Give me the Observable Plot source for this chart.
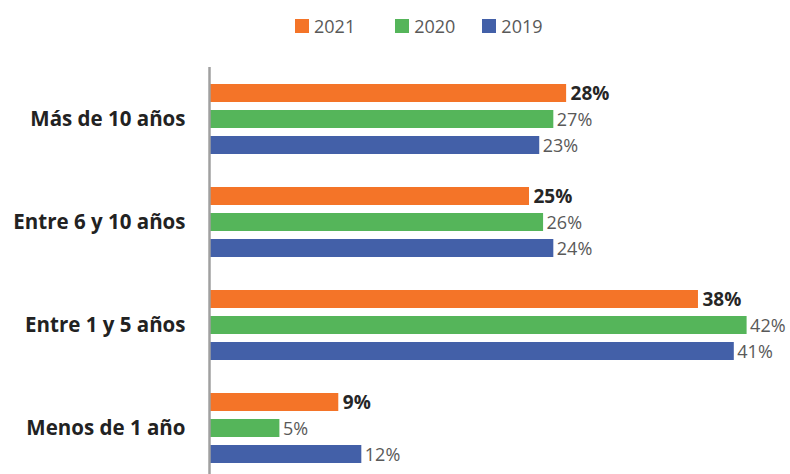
<!DOCTYPE html>
<html>
<head>
<meta charset="utf-8">
<script src="https://cdn.jsdelivr.net/npm/d3@7"></script>
<script src="https://cdn.jsdelivr.net/npm/@observablehq/plot@0.6"></script>
<style>
  html, body { margin: 0; padding: 0; background: #fff; overflow: hidden; width: 790px; height: 474px; }
  #legend { height: 50px; display: flex; align-items: center; padding-left: 295px; padding-top: 2px; box-sizing: border-box;
            font-family: "Open Sans", sans-serif; font-size: 18px; color: #595959; }
  #legend .item { display: flex; align-items: center; }
  #legend .item + .item { margin-left: 40px; }
  #legend .item:nth-child(3) { margin-left: 27px; }
  #legend .sw { width: 14px; height: 14px; margin-right: 5px; }
  #chart svg [aria-label^="fy-axis"] text { font-weight: bold; font-size: 20.5px; fill: #222; }
</style>
</head>
<body>
<div id="legend"></div>
<div id="chart"></div>
<script>
// ---- data ----
const categories = ["Más de 10 años", "Entre 6 y 10 años", "Entre 1 y 5 años", "Menos de 1 año"];
const years = ["2021", "2020", "2019"];
const colors = ["#F47428", "#55B55A", "#4360A8"];
// bar lengths as drawn (percent)
const values2021 = [27.9, 25.0, 38.2, 10.1];
const values2020 = [26.9, 26.1, 42.0, 5.5];
const values2019 = [25.8, 26.9, 41.0, 11.9];
// printed labels
const labels2021 = ["28%", "25%", "38%", "9%"];
const labels2020 = ["27%", "26%", "42%", "5%"];
const labels2019 = ["23%", "24%", "41%", "12%"];

const series = [
  {year: "2021", values: values2021, labels: labels2021},
  {year: "2020", values: values2020, labels: labels2020},
  {year: "2019", values: values2019, labels: labels2019}
];
const rows = [];
categories.forEach((c, i) => {
  series.forEach(s => rows.push({category: c, year: s.year, value: s.values[i], label: s.labels[i]}));
});

// legend
const legend = document.getElementById("legend");
years.forEach((y, i) => {
  const it = document.createElement("div");
  it.className = "item";
  const sw = document.createElement("span");
  sw.className = "sw";
  sw.style.background = colors[i];
  const t = document.createElement("span");
  t.textContent = y;
  it.appendChild(sw);
  it.appendChild(t);
  legend.appendChild(it);
});

const chart = Plot.plot({
  width: 790,
  height: 430,
  marginTop: 15,
  marginBottom: 0,
  marginLeft: 209,
  marginRight: 5,
  style: {fontFamily: "Open Sans, sans-serif", background: "white"},
  facet: {data: rows, y: "category", marginTop: 0, marginBottom: 0, marginLeft: 0, marginRight: 0},
  fy: {domain: categories, padding: 0, axis: "left", label: null, tickSize: 0, tickPadding: 24},
  y: {domain: years, paddingInner: 0.31, paddingOuter: 0.62, axis: null},
  x: {domain: [0, 45], axis: null},
  color: {domain: years, range: colors},
  marks: [
    Plot.barX(rows, {x: "value", y: "year", fill: "year", insetLeft: 1}),
    Plot.text(rows, {filter: d => d.year === "2021", x: "value", y: "year", text: "label",
      textAnchor: "start", dx: 4, dy: 0, fontSize: 19, fontWeight: "bold", fill: "#262626"}),
    Plot.text(rows, {filter: d => d.year !== "2021", x: "value", y: "year", text: "label",
      textAnchor: "start", dx: 3, dy: 1, fontSize: 18, fill: "#595959"}),
    Plot.ruleX([0], {stroke: "#A0A0A0", strokeWidth: 2.5})
  ]
});
document.getElementById("chart").appendChild(chart);
</script>
</body>
</html>
